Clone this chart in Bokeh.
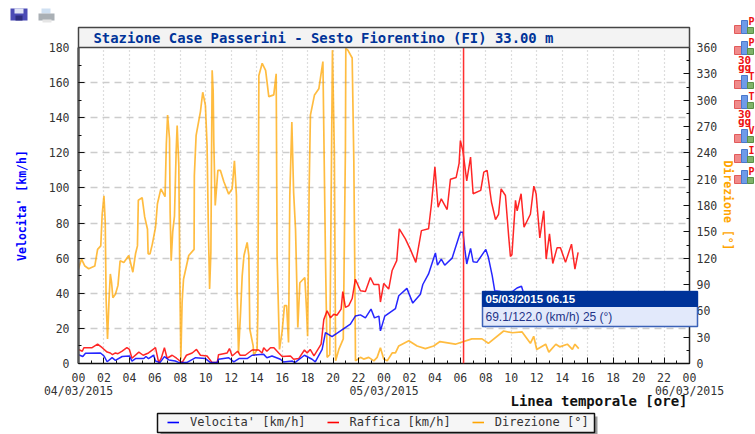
from bokeh.embed import file_html
from bokeh.resources import INLINE
from bokeh.plotting import figure
from bokeh.models import (Range1d, LinearAxis, FixedTicker, Label, BoxAnnotation, Span,
                          Legend, LegendItem)

TITLE = "Stazione Case Passerini - Sesto Fiorentino (FI) 33.00 m"
SPEED_LABEL = "Velocita' [km/h]"
GUST_LABEL = "Raffica [km/h]"
DIR_LABEL = "Direzione [°]"
X_LABEL = "Linea temporale [ore]"
DATES = ["04/03/2015", "05/03/2015", "06/03/2015"]
DATE_HOURS = [0, 24, 48]
HOUR_TICKS = list(range(0, 49, 2))
HOUR_LABELS = ["%02d" % (h % 24) for h in HOUR_TICKS]
CURSOR_HOUR = 30.25
TIP_HEAD = "05/03/2015 06.15"
TIP_BODY = "69.1/122.0 (km/h) 25 (°)"

speed_h = [0,.34,.55,1.73,2,2.25,2.64,2.9,3.43,4,4.2,4.48,5.13,5.3,5.5,5.9,6.05,6.4,6.75,7.1,7.6,7.9,8.5,9.2,9.97,10.37,
           10.9,11,11.8,12.2,12.6,13.25,13.64,14.55,14.8,15.2,15.86,16.1,16.8,17,17.75,18.35,18.6,19.14,19.4,19.92,21.36,
           21.75,22.15,22.54,22.98,23.25,23.6,23.72,24.06,24.9,25.16,25.8,26.26,26.86,27.05,27.5,28.04,28.2,28.5,28.77,
           29.35,30,30.2,30.35,30.5,30.8,31,31.3,32,32.2,32.5,32.7,33.15,34,34.45,34.8,34.93]
speed_v = [5,4,5.8,6,4.3,1,3.3,1.8,4,4.3,1.4,2.8,2.8,4,2.8,4.7,1.4,.5,3.9,2,1.4,.5,.5,3.3,2.8,.5,
           .5,2.4,3.3,.9,2.8,2.8,4.7,5.2,3.3,4.3,2.4,.9,1.4,.5,4.7,2.4,.9,8,17.6,15.3,22.4,
           27,27.7,26,31,26,27,18.6,27,31.3,38.6,42.8,34.4,39.5,45,51,63,56,59.5,56,
           60,74.8,74.8,65,56.7,65.6,58,57.6,65,60.5,50,41.4,41,40.5,43,44,41]

gust_h = [0,.3,.42,1.07,1.5,1.86,2.25,2.5,2.67,2.9,3.1,3.43,3.8,4,4.2,4.74,5.08,5.5,6.05,6.3,6.5,6.75,6.96,7.36,7.7,8.14,8.48,8.93,
          9.27,9.58,10.1,10.5,10.9,11,11.68,11.86,12.07,12.5,12.7,13.1,13.64,14.16,14.42,14.55,14.8,15.08,15.35,15.73,16,16.65,16.9,17.3,
          17.75,17.96,18.2,18.5,19.06,19.27,19.53,19.8,20.05,20.3,20.63,20.76,20.97,21.23,21.5,21.75,22.15,22.54,22.93,23.2,23.6,23.72,23.98,
          24.37,24.64,25,25.2,25.68,26.07,26.5,26.94,27.5,27.73,28,28.25,28.5,28.96,29.22,29.67,29.9,30,30.2,30.5,30.8,31,31.6,31.84,32.1,
          32.44,32.76,33,33.2,33.54,33.8,33.93,34.05,34.33,34.46,34.77,35,35.5,35.77,35.95,36.24,36.55,36.74,37,37.26,37.6,37.86,38.26,38.73,39,39.25]
gust_v = [8,7,9,9,11,9,6.5,6,5,6,5.6,7,9,8,3,6.5,4.7,6,9,.5,3,9,3,4.7,3,.5,4.7,6,
          8,4.7,4.3,.5,.5,5,6,8.5,4.3,7,4.7,4.7,7.7,7.7,6,9,7,9,9,6,4,4.3,2.4,2.8,
          7.7,6,8,4.3,11,25,30,26,28,27.5,31,41,32,33,37,48,41.4,41,49,45,45,35,45.6,
          42.4,53,58.6,76.7,71,65,57.6,75.7,76.7,91,112,89,93.8,87.7,105,106,114,127,121,104,117.6,96.7,98.6,109,110,
          92,82,85,99.5,95.7,72,61,62,92.9,87,96.7,77.6,85,101,96.7,71.5,87,59.5,73.8,57,66,66,57.6,68,53.8,63.3]

dir_h = [0,.24,.5,.8,1.28,1.5,1.75,1.86,2,2.1,2.17,2.28,2.4,2.5,2.6,2.7,2.9,3.1,3.27,3.56,3.95,4.27,4.48,4.63,4.7,5,5.2,5.42,5.47,5.62,5.8,6.05,6.2,6.47,6.8,6.9,7,7.15,7.2,7.28,7.4,7.54,
         7.67,7.75,7.88,7.96,8.04,8.14,8.25,8.66,9.08,9.1,9.24,9.58,9.76,9.97,10.1,10.2,10.3,10.4,10.5,10.58,10.63,10.74,10.95,11.15,11.42,11.8,12.07,12.25,12.41,12.46,12.57,12.73,12.86,13,13.25,13.38,13.46,13.72,13.77,14.03,14.09,
         14.17,14.43,14.7,14.95,15.34,15.53,15.6,15.79,16,16.18,16.35,16.5,16.6,16.76,16.9,17.05,17.23,17.39,17.78,17.91,18,18.12,18.22,18.54,18.88,19.2,19.4,19.53,19.74,19.95,20.1,20.2,20.45,20.8,20.97,21,21.16,21.5,21.63,21.7,21.76,
         22.15,22.4,22.8,23.2,23.46,23.72,23.98,24.25,24.64,24.9,25.16,25.95,26.6,27.25,27.9,28.4,29.6,30.9,31.7,32.2,33.4,34.06,34.85,35.5,35.76,36,36.7,36.95,37.5,37.8,38.4,38.8,39,39.3]
dir_v = [108,119,111,108,111,130,134,170,191,161,73,28,73,102,92,75,79,89,117,115,123,104,125,134,186,189,167,153,125,125,136,155,182,199,190,250,283,256,172,117,150,168,
         241,271,226,96,5,70,96,123,130,214,260,287,309,294,249,155,85,127,334,310,252,180,220,220,207,193,199,231,191,81,12,58,100,123,138,123,39,20,9,16,58,
         328,342,334,304,306,330,123,16,37,66,66,24,191,275,195,153,41,92,98,62,31,199,283,306,313,344,123,7,10,357,241,3,16,28,245,359,357,348,230,115,3,
         7,5,7,3,7,18,5,3,12,12,20,26,20,17,20,25,22,28,28,23,37,35,36,23,31,16,22,13,22,19,22,16,22,17]

W, H = 747, 426
ABS = {"position": "absolute", "left": "8px", "top": "8px"}
p = figure(width=W, height=H, output_backend="svg", toolbar_location=None,
           x_range=Range1d(0, 48), y_range=Range1d(0, 180),
           min_border_left=70, min_border_right=W - 681, min_border_top=39, min_border_bottom=H - 355,
           outline_line_color=None, background_fill_color="white")
p.styles = ABS
p.extra_y_ranges = {"dir": Range1d(0, 360)}

MONO = "DejaVu Sans Mono"
TXT = "#333333"

def style(ax, color="#222222", width=1.5):
    ax.axis_line_color = color
    ax.axis_line_width = width
    ax.major_tick_in = 6
    ax.major_tick_out = 0
    ax.minor_tick_in = 3
    ax.minor_tick_out = 0
    ax.major_tick_line_color = "#111111"
    ax.minor_tick_line_color = "#111111"
    ax.major_label_text_font = MONO
    ax.major_label_text_font_size = "11.5px"
    ax.major_label_text_color = TXT

xax = p.xaxis[0]
xax.ticker = FixedTicker(ticks=HOUR_TICKS, minor_ticks=list(range(49)))
xax.major_label_overrides = dict(zip(HOUR_TICKS, HOUR_LABELS))
style(xax, "#111111")
xax.major_label_standoff = 9

yax = p.yaxis[0]
yax.ticker = FixedTicker(ticks=list(range(0, 181, 20)), minor_ticks=list(range(0, 181, 10)))
style(yax, "#555555", 2.5)
yax.major_label_standoff = 9
yax.axis_label = SPEED_LABEL
yax.axis_label_standoff = 17
yax.axis_label_text_font = MONO
yax.axis_label_text_font_style = "bold"
yax.axis_label_text_font_size = "11.5px"
yax.axis_label_text_color = "#0000ff"

rax = LinearAxis(y_range_name="dir")
rax.ticker = FixedTicker(ticks=list(range(0, 361, 30)), minor_ticks=list(range(0, 361, 15)))
style(rax, "#222222", 1.5)
rax.major_label_standoff = 7
rax.axis_label = DIR_LABEL
rax.axis_label_standoff = 1
rax.axis_label_text_font = MONO
rax.axis_label_text_font_style = "bold"
rax.axis_label_text_font_size = "11.5px"
rax.axis_label_text_color = "#ffa500"
p.add_layout(rax, "right")

p.xgrid.ticker = FixedTicker(ticks=HOUR_TICKS)
p.xgrid.grid_line_color = "#bbbbbb"
p.xgrid.grid_line_dash = "1 3"
p.xgrid.grid_line_width = 1.2
p.ygrid.ticker = FixedTicker(ticks=list(range(20, 180, 20)))
p.ygrid.grid_line_color = "#cccccc"
p.ygrid.grid_line_dash = "7 5"
p.ygrid.grid_line_width = 1.5

p.line(dir_h, dir_v, y_range_name="dir", color="#ffa500", line_width=1.7, line_alpha=0.75)
p.line(gust_h, gust_v, color="#ff0000", line_width=1.5, line_alpha=0.85)
p.line(speed_h, speed_v, color="#0000ff", line_width=1.5, line_alpha=0.85)
p.add_layout(Span(location=CURSOR_HOUR, dimension="height", line_color="#ff3030", line_width=1.5))

# transparent sheet over the chart, frame = whole canvas: title bar, tooltip, legend, page icons
d = figure(width=W, height=H, output_backend="svg", toolbar_location=None,
           x_range=Range1d(0, W), y_range=Range1d(0, H), x_axis_type=None, y_axis_type=None,
           min_border=0, outline_line_color=None,
           background_fill_alpha=0, border_fill_alpha=0)
d.grid.visible = False
d.styles = ABS

def sx(x): return x - 8
def sy(y): return H - (y - 8)
def hour_px(h): return 78 + h * 611 / 48

def box(x0, y0, x1, y1, fill, line=None, lw=1):
    d.add_layout(BoxAnnotation(left=sx(x0), right=sx(x1), top=sy(y0), bottom=sy(y1),
                               left_units="screen", right_units="screen", top_units="screen", bottom_units="screen",
                               fill_color=fill, fill_alpha=1, line_color=line, line_width=lw, line_alpha=1 if line else 0,
                               editable=False))

def text(x, y, s, color=TXT, font=MONO, size="11.5px", style="normal", align="left"):
    d.add_layout(Label(x=sx(x), y=sy(y), x_units="screen", y_units="screen",
                       text=s, text_color=color, text_font=font, text_font_size=size, text_font_style=style,
                       text_align=align, text_baseline="middle"))

# title bar
box(78, 27, 689, 47, "#f3f3f3", "#444444", 1.5)
text(93, 37.5, TITLE, color="#003399", size="13.9px", style="bold")

# dates and axis caption under the time axis
for h, t in zip(DATE_HOURS, DATES):
    text(hour_px(h), 390.5, t, align="center")
text(687, 400, X_LABEL, color="#111111", size="14px", style="bold", align="right")

# tooltip
box(482, 291, 697, 326, "#e2e9fb", "#3b62b8", 1.5)
box(482, 291, 697, 306, "#003399", "#003399", 1)
text(485, 298.5, TIP_HEAD, color="white", font="Liberation Sans", size="11.5px", style="bold")
text(485, 316, TIP_BODY, color="#223388", font="Liberation Sans", size="12px")

# legend
box(160, 416, 597, 434, "#999999")
box(157, 413, 594, 432, "#f6f6f6", "#111111", 1.5)
l1 = d.line([-20, -10], [-20, -10], color="#0000ff", line_width=1.6)
l2 = d.line([-20, -10], [-20, -10], color="#ff0000", line_width=1.6)
l3 = d.line([-20, -10], [-20, -10], color="#ffa500", line_width=1.6)
leg = Legend(items=[LegendItem(label=SPEED_LABEL, renderers=[l1]),
                    LegendItem(label=GUST_LABEL, renderers=[l2]),
                    LegendItem(label=DIR_LABEL, renderers=[l3])],
             orientation="horizontal", location=(sx(167), H - (429 - 8)), margin=0, padding=0, spacing=21,
             glyph_width=12, glyph_height=12, label_standoff=11, label_height=12,
             label_text_font=MONO, label_text_font_size="12px", label_text_color=TXT,
             background_fill_alpha=0, border_line_alpha=0)
d.add_layout(leg, "center")

# page icons
box(10, 7, 27, 20, "#4a4ab5")
box(14, 7, 23, 13, "#dfe3f5")
box(15, 15, 22, 20, "#2c2c80")
box(41, 7, 50, 13, "#cfe0f2")
box(38, 13, 54, 20, "#aab0b5")
box(42, 19, 51, 22, "#e5e5e5")
ICON_TOPS = [20, 41, 75, 95, 129, 149, 170]
ICON_LETTERS = ["P", "P", "T", "T", "V", "I", "P"]
for top, letter in zip(ICON_TOPS, ICON_LETTERS):
    box(734, top + 5, 741, top + 13, "#f08a8a", "#e25a5a")
    box(741, top, 747, top + 13, "#6f9be8", "#4a78cc")
    box(747, top + 7, 753, top + 13, "#7fb36a", "#5a9048")
    text(748, top + 1, letter, color="#ee1111", style="bold", size="10px")
for top in (41, 95):
    text(744, top + 18, "30", color="#ee1111", style="bold", size="11px", align="center")
    text(744, top + 26, "gg", color="#ee1111", style="bold", size="11px", align="center")

open("out.html", "w").write(file_html([p, d], INLINE))
